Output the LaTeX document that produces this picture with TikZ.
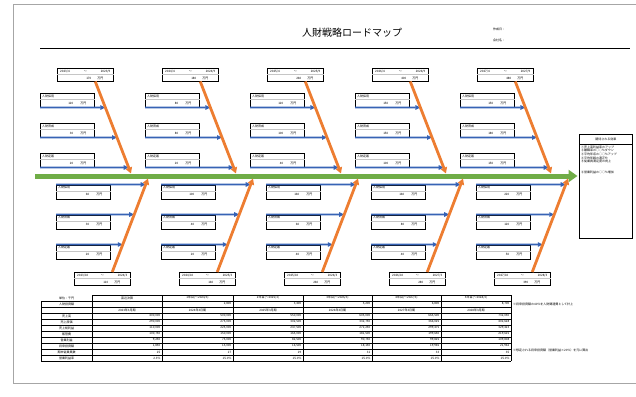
\documentclass[tikz,border=0pt]{standalone}
\usepackage{fontspec}
\newfontfamily\jpfont{Noto Sans CJK JP}
\usetikzlibrary{arrows.meta,positioning}

\definecolor{spinegreen}{HTML}{70AD47}
\definecolor{branchorange}{HTML}{ED7D31}
\definecolor{feedblue}{HTML}{3763B5}

\newcommand\minitext{\jpfont\fontsize{3}{3.6}\selectfont}

\tikzset{
  every node/.style={font=\minitext, inner sep=0pt},
  periodbox/.style={draw, line width=0.5pt, minimum width=56pt, minimum height=13pt, anchor=north west},
  itembox/.style={draw, line width=0.5pt, minimum width=54pt, minimum height=14pt, anchor=north west},
  divider/.style={gray!45, line width=0.3pt},
  spine/.style={spinegreen, line width=5pt, -{Triangle[length=9pt,width=12pt]}},
  branch/.style={branchorange, line width=2.8pt, -{Triangle[length=6pt,width=6.5pt]}},
  feed/.style={feedblue, line width=1.8pt, -{Triangle[length=5pt,width=4.5pt]}},
  numcell/.style={anchor=east},
  grid/.style={line width=0.6pt},
}

% one row of the table: row, label, six values
\newcommand\finrow[8]{%
  \node (lab#1) at (66.5,{298+6*#1}) {#2};
  \node[numcell] (v#1a) at (160.5,{298+6*#1}) {#3};
  \node[numcell] (v#1b) at (231.5,{298+6*#1}) {#4};
  \node[numcell] (v#1c) at (301.5,{298+6*#1}) {#5};
  \node[numcell] (v#1d) at (370.5,{298+6*#1}) {#6};
  \node[numcell] (v#1e) at (439.5,{298+6*#1}) {#7};
  \node[numcell] (v#1f) at (509.5,{298+6*#1}) {#8};
}

\begin{document}
\begin{tikzpicture}[x=1pt,y=-1pt]
\useasboundingbox (0,0) rectangle (636,396);
% frame and heading
\draw[gray!70, line width=0.8pt] (636,4) -- (13,4) -- (13,383) -- (636,383);
\node[font=\jpfont\fontsize{10}{11}\selectfont] (title) at (352,33) {人財戦略ロードマップ};
\node[anchor=west] (made) at (493,29) {作成日：};
\node[anchor=west] (company) at (493,40) {会社名：};
\draw[line width=0.8pt] (40,48) -- (630,48);

% expected effects
\node[draw, line width=0.6pt, minimum width=53pt, minimum height=104pt, anchor=north west] (effect) at (579,134) {};
\node (efftitle) at ([yshift=-5pt]effect.north) {期待される効果};
\draw[line width=0.6pt] ([yshift=-10pt]effect.north west) -- ([yshift=-10pt]effect.north east);
\foreach \t [count=\k] in {①売上高利益率のアップ,②離職率の○○\%ダウン,③平均年収の○○\%アップ,④平均年齢の適正化,⑤従業員満足度の向上}
  \node[anchor=west] (eff\k) at (581,{143.5+3.6*\k}) {\t};
\node[anchor=west] (eff6) at (581,172) {⑥営業利益の○○\%増加};

% spine
\coordinate (spinestart) at (35,176);
\draw[spine, shorten >=1.5pt] (spinestart) -- (effect.west |- spinestart);

% five periods
\foreach \i/\ta/\tb/\tc/\ba/\bb/\bc in {0/120/30/20/60/30/20,1/80/80/20/100/40/20,2/120/100/40/160/60/40,3/150/150/100/160/80/40,4/150/180/150/220/120/50}{
  \pgfmathtruncatemacro\yr{2023+\i}
  \pgfmathtruncatemacro\yn{2024+\i}
  \pgfmathtruncatemacro\tsum{\ta+\tb+\tc}
  \pgfmathtruncatemacro\bsum{\ba+\bb+\bc}
  \pgfmathtruncatemacro\dx{105*\i}
  % first half year
  \node[periodbox] (pt\i) at (57+\dx,68) {};
  \node[anchor=west] (ptf\i) at ([xshift=3pt,yshift=-3.3pt]pt\i.north west) {\yr/4};
  \node (ptw\i) at ([yshift=-3.3pt]pt\i.north) {～};
  \node[anchor=east] (ptt\i) at ([xshift=-3pt,yshift=-3.3pt]pt\i.north east) {\yr/9};
  \draw[divider] ([yshift=-6.5pt]pt\i.north west) -- ([yshift=-6.5pt]pt\i.north east);
  \node[anchor=east] (pts\i) at ([xshift=-22pt,yshift=-10pt]pt\i.north east) {\tsum};
  \node[anchor=east] (ptu\i) at ([xshift=-10pt,yshift=-10pt]pt\i.north east) {万円};
  \coordinate (tstart\i) at ([xshift=10pt]pt\i.south);
  \coordinate (tend\i) at (131+\dx,173.5);
  \foreach \r/\lab/\val in {1/人財採用/\ta,2/人財育成/\tb,3/人財定着/\tc}{
    \node[itembox] (ti\i\r) at (40+\dx,63+30*\r) {};
    \node[anchor=west] (til\i\r) at ([xshift=2pt,yshift=-3.2pt]ti\i\r.north west) {\lab};
    \draw[divider] ([yshift=-6.5pt]ti\i\r.north west) -- ([yshift=-6.5pt]ti\i\r.north east);
    \node[anchor=east] (tiv\i\r) at ([xshift=-21pt,yshift=-10.3pt]ti\i\r.north east) {\val};
    \node[anchor=east] (tiu\i\r) at ([xshift=-8pt,yshift=-10.3pt]ti\i\r.north east) {万円};
    \draw[feed] (ti\i\r.south west) -- (intersection of ti\i\r.south west--ti\i\r.south east and tstart\i--tend\i);
  }
  \draw[branch] (tstart\i) -- (tend\i);
  % second half year
  \node[periodbox] (pb\i) at (74+\dx,272) {};
  \node[anchor=west] (pbf\i) at ([xshift=3pt,yshift=-3.3pt]pb\i.north west) {\yr/10};
  \node (pbw\i) at ([yshift=-3.3pt]pb\i.north) {～};
  \node[anchor=east] (pbt\i) at ([xshift=-3pt,yshift=-3.3pt]pb\i.north east) {\yn/3};
  \draw[divider] ([yshift=-6.5pt]pb\i.north west) -- ([yshift=-6.5pt]pb\i.north east);
  \node[anchor=east] (pbs\i) at ([xshift=-22pt,yshift=-10pt]pb\i.north east) {\bsum};
  \node[anchor=east] (pbu\i) at ([xshift=-10pt,yshift=-10pt]pb\i.north east) {万円};
  \coordinate (bstart\i) at ([xshift=10pt]pb\i.north);
  \coordinate (bend\i) at (148+\dx,178.5);
  \foreach \r/\lab/\val in {1/人財採用/\ba,2/人財育成/\bb,3/人財定着/\bc}{
    \node[itembox] (bi\i\r) at (56+\dx,154.5+30*\r) {};
    \node[anchor=west] (bil\i\r) at ([xshift=2pt,yshift=-3.2pt]bi\i\r.north west) {\lab};
    \draw[divider] ([yshift=-6.5pt]bi\i\r.north west) -- ([yshift=-6.5pt]bi\i\r.north east);
    \node[anchor=east] (biv\i\r) at ([xshift=-21pt,yshift=-10.3pt]bi\i\r.north east) {\val};
    \node[anchor=east] (biu\i\r) at ([xshift=-8pt,yshift=-10.3pt]bi\i\r.north east) {万円};
    \draw[feed] (bi\i\r.north west) -- (intersection of bi\i\r.north west--bi\i\r.north east and bstart\i--bend\i);
  }
  \draw[branch] (bstart\i) -- (bend\i);
}

% plan table
\foreach \k in {1,...,11}
  \draw[grid] (41,295+6*\k) -- (511,295+6*\k);
\draw[grid] (92,295) -- (511,295);
\draw[grid] (41,301) -- (41,361);
\foreach \xx in {92,162,233,303,372,441,511}
  \draw[grid] (\xx,295) -- (\xx,361);
\node (unit) at (66.5,298) {単位：千円};
\node (h1) at (127,298) {直近決算};
\node (y1) at (127,310) {2023年3月期};
\foreach \xc [count=\c] in {197.5,268,337.5,406.5,476}{
  \pgfmathtruncatemacro\yy{2023+\c}
  \node (h\c) at (\xc,298) {\c 年目(～\yy/3)};
  \node (y\c) at (\xc,310) {\yy 年3月期};
}
\node (lab1) at (66.5,304) {人財投資額};
\foreach \v/\xr [count=\c] in {{2,800}/231.5,{3,400}/301.5,{5,200}/370.5,{6,800}/439.5,{8,700}/509.5}
  \node[numcell] (inv\c) at (\xr,304) {\v};
\node[anchor=west] (note1) at (513,304) {※将来投資額の40\%を人財関連費として計上};
\finrow{3}{売上高}{400,000}{500,000}{550,000}{605,000}{665,500}{732,050}
\finrow{4}{売上原価}{290,000}{275,000}{302,500}{332,750}{366,025}{402,628}
\finrow{5}{売上総利益}{110,000}{225,000}{247,500}{272,250}{299,475}{329,423}
\finrow{6}{販管費}{100,750}{150,000}{165,000}{181,500}{199,650}{219,615}
\finrow{7}{営業利益}{9,250}{75,000}{82,500}{90,750}{99,825}{109,808}
\finrow{8}{将来投資額}{1,850}{15,000}{16,500}{18,150}{19,965}{21,962}
\finrow{9}{期末従業員数}{25}{27}{29}{31}{33}{35}
\finrow{10}{営業利益率}{2.3\%}{15.0\%}{15.0\%}{15.0\%}{15.0\%}{15.0\%}
\node[anchor=west] (note2) at (513,350) {※想定される将来投資額（営業利益×20\%）を元に算出};
\end{tikzpicture}
\end{document}
